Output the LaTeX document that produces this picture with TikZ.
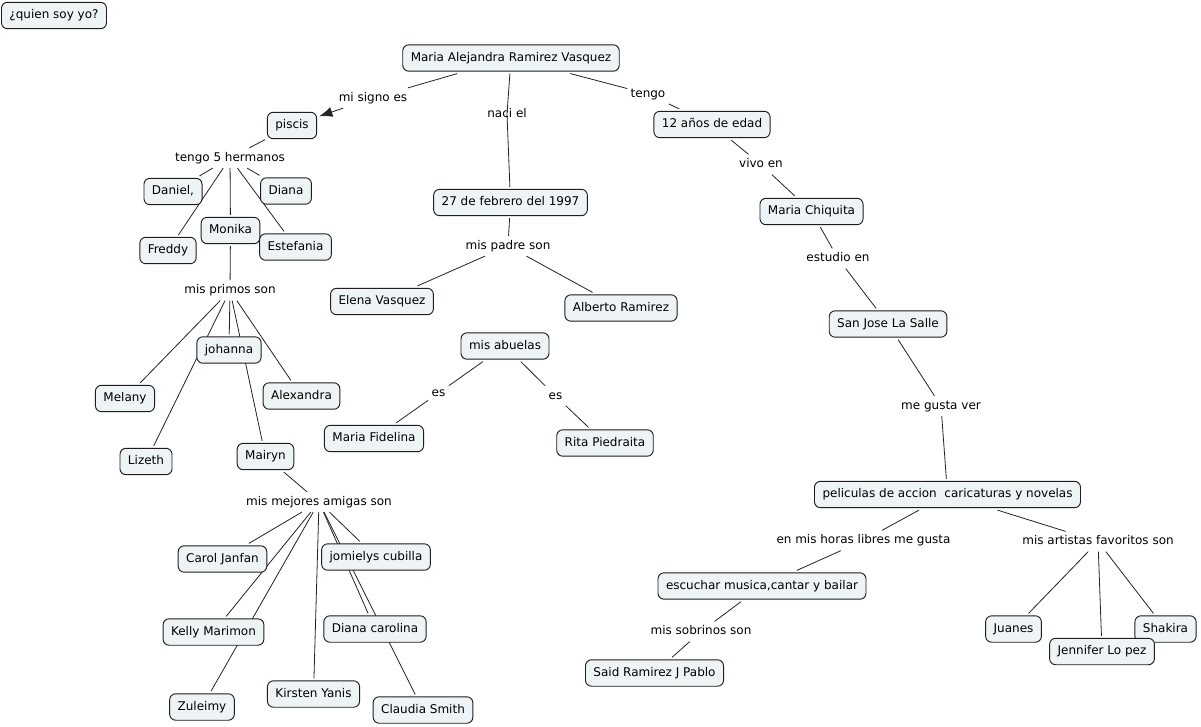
\documentclass[tikz,border=0pt]{standalone}
\usepackage{fontspec}
\setmainfont{DejaVu Sans}
\usetikzlibrary{arrows.meta}
\definecolor{cfill}{RGB}{238,243,246}
\definecolor{cline}{RGB}{35,35,35}
\definecolor{cborder}{RGB}{30,30,30}
\pgfdeclarelayer{bg}
\pgfdeclarelayer{lines}
\pgfsetlayers{bg,lines,main}
\tikzset{
  concept/.style={draw=cborder, fill=cfill, rounded corners=4.5pt, line width=0.7pt,
    inner xsep=6pt, inner ysep=0pt, minimum height=19.8pt, text height=6.8pt, text depth=2.2pt,
    font=\fontsize{9}{11}\selectfont, outer sep=1.8pt},
  linkp/.style={inner xsep=2pt, inner ysep=2.5pt, text height=7pt, text depth=2pt,
    font=\fontsize{9}{11}\selectfont, outer sep=0.6pt},
  conn/.style={draw=cline, line width=0.6pt},
}
\begin{document}
\begin{tikzpicture}[x=0.75pt,y=-0.75pt]
\useasboundingbox (0,0) rectangle (1201,726);
\begin{pgfonlayer}{bg}
\fill[white] (0,0) rectangle (1201,726);
\end{pgfonlayer}

% concepts
\node[concept] (quien) at (54,15.5) {¿quien soy yo?};
\node[concept] (maria) at (511,58) {Maria Alejandra Ramirez Vasquez};
\node[concept] (piscis) at (292,125.5) {piscis};
\node[concept] (anos) at (712,124.5) {12 años de edad};
\node[concept] (feb) at (510.5,202.5) {27 de febrero del 1997};
\node[concept] (chiq) at (811.5,211.5) {Maria Chiquita};
\node[concept] (daniel) at (173,191.5) {Daniel,};
\node[concept] (diana) at (286,191) {Diana};
\node[concept] (freddy) at (168,250.5) {Freddy};
\node[concept] (monika) at (230.5,230.5) {Monika};
\node[concept] (estef) at (295.5,247) {Estefania};
\node[concept] (elena) at (382,301.5) {Elena Vasquez\hspace{4pt}};
\node[concept] (alberto) at (621,308) {Alberto Ramirez};
\node[concept] (sanjose) at (888,324) {San Jose La Salle};
\node[concept] (abuelas) at (505,346) {mis abuelas\hspace{2pt}};
\node[concept] (johanna) at (229,350) {johanna};
\node[concept] (melany) at (125,398.5) {Melany};
\node[concept] (alexandra) at (301.5,396) {Alexandra};
\node[concept] (fidelina) at (374,438.5) {Maria Fidelina};
\node[concept] (rita) at (605,443) {Rita Piedraita};
\node[concept] (lizeth) at (146,461.5) {Lizeth};
\node[concept] (mairyn) at (265.5,456.5) {Mairyn};
\node[concept] (pelis) at (947.5,494.5) {peliculas de accion\ \ caricaturas y novelas};
\node[concept] (carol) at (222.5,559) {Carol Janfan};
\node[concept] (jomi) at (376,557) {jomielys cubilla};
\node[concept] (escuchar) at (762,586) {escuchar musica,cantar y bailar};
\node[concept] (kelly) at (213.5,632) {Kelly Marimon};
\node[concept] (dianac) at (375,629) {Diana carolina};
\node[concept] (juanes) at (1013.5,629) {Juanes};
\node[concept] (shakira) at (1165.5,629) {Shakira};
\node[concept] (jennifer) at (1102,651.5) {Jennifer Lo pez};
\node[concept] (said) at (654.5,673) {Said Ramirez J Pablo};
\node[concept] (zuleimy) at (202,707) {Zuleimy};
\node[concept] (kirsten) at (313.5,694) {Kirsten Yanis};
\node[concept] (claudia) at (423,710) {Claudia Smith};

% linking phrases
\node[linkp] (lsigno) at (373,98) {mi signo es};
\node[linkp] (lnaci) at (507,114) {naci el};
\node[linkp] (ltengo) at (648,94) {tengo};
\node[linkp] (lherm) at (230,158) {tengo 5 hermanos};
\node[linkp] (lvivo) at (761,164.5) {vivo en};
\node[linkp] (lpadre) at (508,246) {mis padre son};
\node[linkp] (lestudio) at (838,258.5) {estudio en};
\node[linkp] (lprimos) at (230,290.5) {mis primos son};
\node[linkp] (les1) at (438.5,393) {es};
\node[linkp] (les2) at (555.5,396) {es};
\node[linkp] (lgusta) at (941,406) {me gusta ver};
\node[linkp] (lamigas) at (319,502) {mis mejores amigas son};
\node[linkp] (lhoras) at (863.5,540.5) {en mis horas libres me gusta};
\node[linkp] (lartistas) at (1098,541.5) {mis artistas favoritos son};
\node[linkp] (lsobrinos) at (701,631.5) {mis sobrinos son};

\begin{pgfonlayer}{lines}
\draw[conn] (maria) -- (lsigno);
\draw[conn,-{Latex[length=10pt,width=7.5pt]}] (lsigno) -- (piscis);
\draw[conn] (maria) -- (lnaci.center);
\draw[conn] (lnaci.center) -- (feb);
\draw[conn] (maria) -- (ltengo);
\draw[conn] (ltengo) -- (anos);
\draw[conn] (piscis) -- (lherm);
\draw[conn] (lherm) -- (daniel);
\draw[conn] (lherm) -- (diana);
\draw[conn] (lherm) -- (freddy);
\draw[conn] (lherm) -- (monika);
\draw[conn] (lherm) -- (estef);
\draw[conn] (monika) -- (lprimos);
\draw[conn] (lprimos) -- (melany);
\draw[conn] (lprimos) -- (johanna);
\draw[conn] (lprimos) -- (lizeth);
\draw[conn] (lprimos) -- (mairyn);
\draw[conn] (lprimos) -- (alexandra);
\draw[conn] (mairyn) -- (lamigas);
\draw[conn] (lamigas) -- (carol);
\draw[conn] (lamigas) -- (jomi);
\draw[conn] (lamigas) -- (kelly);
\draw[conn] (lamigas) -- (zuleimy);
\draw[conn] (lamigas) -- (kirsten);
\draw[conn] (lamigas) -- (dianac);
\draw[conn] (lamigas) -- (claudia);
\draw[conn] (feb) -- (lpadre);
\draw[conn] (lpadre) -- (elena);
\draw[conn] (lpadre) -- (alberto);
\draw[conn] (abuelas) -- (les1);
\draw[conn] (les1) -- (fidelina);
\draw[conn] (abuelas) -- (les2);
\draw[conn] (les2) -- (rita);
\draw[conn] (anos) -- (lvivo);
\draw[conn] (lvivo) -- (chiq);
\draw[conn] (chiq) -- (lestudio);
\draw[conn] (lestudio) -- (sanjose);
\draw[conn] (sanjose) -- (lgusta);
\draw[conn] (lgusta) -- (pelis);
\draw[conn] (pelis) -- (lhoras);
\draw[conn] (lhoras) -- (escuchar);
\draw[conn] (escuchar) -- (lsobrinos);
\draw[conn] (lsobrinos) -- (said);
\draw[conn] (pelis) -- (lartistas);
\draw[conn] (lartistas) -- (juanes);
\draw[conn] (lartistas) -- (jennifer);
\draw[conn] (lartistas) -- (shakira);
\end{pgfonlayer}
\end{tikzpicture}
\end{document}
